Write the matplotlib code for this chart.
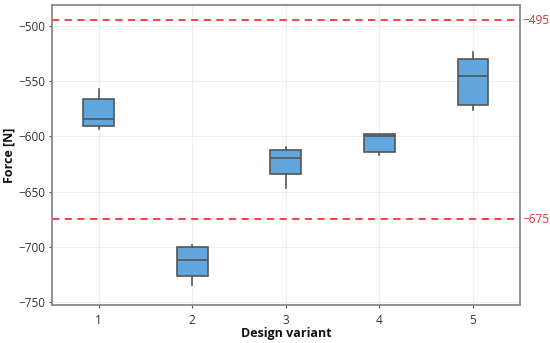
import matplotlib
matplotlib.use("Agg")
import matplotlib.pyplot as plt

plt.rcParams['font.family'] = ['Open Sans', 'DejaVu Sans']

variants = [1, 2, 3, 4, 5]
whislo = [-593.5, -734.5, -646.5, -616.7, -576.6]
q1 = [-590.5, -726.5, -634.0, -614.3, -571.8]
med = [-584.4, -711.5, -620.0, -599.5, -545.0]
q3 = [-566.0, -699.7, -612.8, -597.7, -529.9]
whishi = [-557.3, -698.5, -609.8, -597.7, -523.8]
limits = [-495, -675]
yticks = [-500, -550, -600, -650, -700, -750]

fig = plt.figure(figsize=(5.5, 3.43), dpi=100)
ax = fig.add_axes([0.0945, 0.111, 0.8505, 0.875])

stats = [dict(whislo=a, q1=b, med=c, q3=d, whishi=e, fliers=[], label=str(v))
         for v, a, b, c, d, e in zip(variants, whislo, q1, med, q3, whishi)]
ax.bxp(stats, positions=variants, widths=0.33, showcaps=False, patch_artist=True,
       boxprops=dict(facecolor='#62a6de', edgecolor='#555555', linewidth=1.2),
       medianprops=dict(color='#555555', linewidth=1.2),
       whiskerprops=dict(color='#555555', linewidth=1.2))

for lim in limits:
    ax.axhline(lim, color='#ff3333', linestyle=(0, (4, 3)), linewidth=1.3, zorder=1)
    ax.text(1.006, lim, '\u2212' + str(abs(lim)), transform=ax.get_yaxis_transform(),
            color='#e03030', fontsize=8.5, va='center', ha='left')

ax.set_xlim(0.5, 5.5)
ax.set_ylim(-752.5, -481)
ax.set_yticks(yticks)
ax.set_yticklabels(['\u2212' + str(abs(t)) for t in yticks])
ax.set_xticks(variants)
ax.set_xticklabels([str(v) for v in variants])
ax.grid(True, color='#eeeeee', linewidth=0.8)
ax.set_axisbelow(True)
for s in ax.spines.values():
    s.set_color('#8a8a8a')
    s.set_linewidth(1.3)
ax.tick_params(colors='#555555', labelcolor='#333333', labelsize=8.5, length=2.5, width=0.8, pad=2)
ax.tick_params(axis='x', pad=4)
ax.set_ylabel('Force [N]', fontsize=9, fontweight='bold', color='#111111')
ax.yaxis.set_label_coords(-0.078, 0.5)
ax.set_xlabel('Design variant', fontsize=9, fontweight='bold', color='#111111')
ax.xaxis.set_label_coords(0.5, -0.075)

fig.savefig('out.png', dpi=100)
